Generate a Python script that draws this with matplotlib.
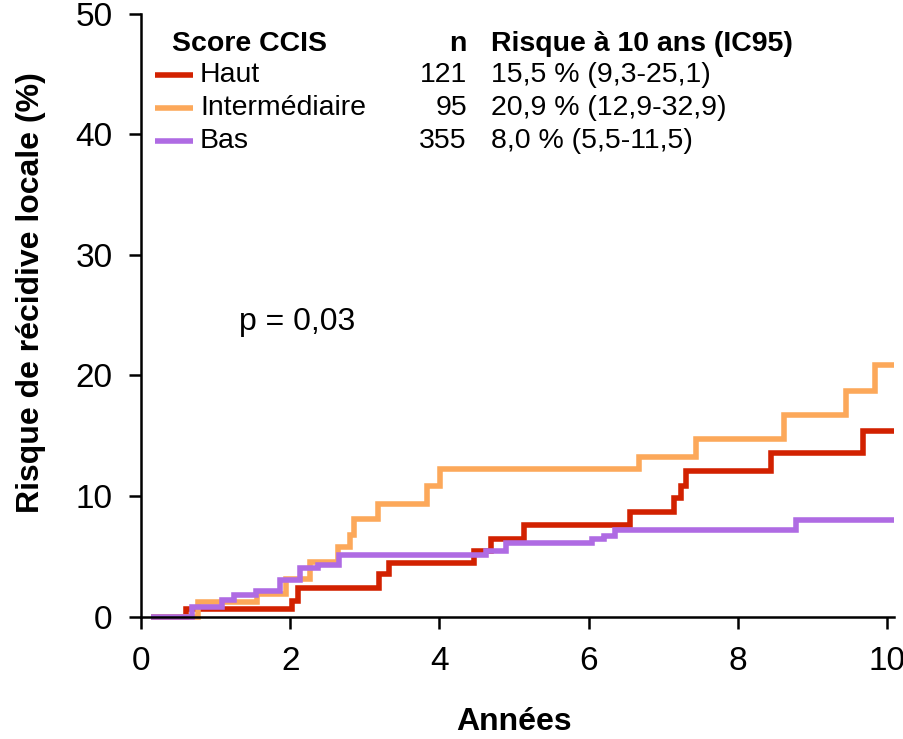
import matplotlib
matplotlib.use('Agg')
import matplotlib.pyplot as plt

plt.rcParams['font.family'] = ['Liberation Sans', 'DejaVu Sans']

# end of follow-up shown (years)
t_end = 10.1

# cumulative incidence steps
haut_t = [0.13, 0.60, 2.03, 2.11, 3.19, 3.33, 4.46, 4.69, 5.14, 6.55, 7.15, 7.24, 7.31, 8.45, 9.68]
haut_v = [0, 0.6, 1.3, 2.4, 3.5, 4.45, 5.4, 6.45, 7.6, 8.7, 9.8, 10.8, 12.1, 13.6, 15.4]

inter_t = [0.13, 0.76, 1.56, 1.94, 2.26, 2.64, 2.80, 2.86, 3.18, 3.84, 4.01, 6.67, 7.44, 8.62, 9.45, 9.84]
inter_v = [0, 1.2, 1.9, 3.1, 4.5, 5.8, 6.8, 8.1, 9.3, 10.8, 12.2, 13.2, 14.7, 16.7, 18.7, 20.9]

bas_t = [0.13, 0.69, 1.09, 1.25, 1.54, 1.86, 2.13, 2.37, 2.65, 4.62, 4.89, 6.05, 6.21, 6.35, 8.78]
bas_v = [0, 0.8, 1.35, 1.75, 2.1, 3.0, 4.0, 4.3, 5.1, 5.45, 6.1, 6.4, 6.7, 7.2, 8.0]

groups = ['Haut', 'Intermédiaire', 'Bas']
n_pat = [121, 95, 355]
risk10 = ['15,5 % (9,3-25,1)', '20,9 % (12,9-32,9)', '8,0 % (5,5-11,5)']
colors = ['#D22100', '#FCA85A', '#AF6BE3']

x_ticks = [0, 2, 4, 6, 8, 10]
y_ticks = [0, 10, 20, 30, 40, 50]

fig = plt.figure(figsize=(9.04, 7.39), dpi=100)
ax = fig.add_axes([0.1395, 0.1413, 0.854, 0.848])

series = [(haut_t, haut_v), (inter_t, inter_v), (bas_t, bas_v)]
for (t, v), c in zip(series, colors):
    ax.step(t + [t_end], v + [v[-1]], where='post', color=c, lw=4,
            solid_joinstyle='miter', solid_capstyle='butt')

ax.set_xlim(-0.2, 10.15)
ax.set_ylim(-1.5, 50.5)

# axes crossing at (0, 0)
for s in ['top', 'right']:
    ax.spines[s].set_visible(False)
ax.spines['left'].set_position(('data', 0))
ax.spines['bottom'].set_position(('data', 0))
ax.spines['left'].set_bounds(0, 50)
ax.spines['bottom'].set_bounds(0, 10.1)
for s in ['left', 'bottom']:
    ax.spines[s].set_linewidth(1.8)

ax.set_xticks(x_ticks)
ax.set_yticks(y_ticks)
ax.tick_params(direction='out', length=8.5, width=1.8, labelsize=24)
ax.tick_params(axis='x', pad=13)
ax.tick_params(axis='y', pad=12)

ax.set_xlabel('Années', fontsize=23, fontweight='bold')
ax.xaxis.set_label_coords(0.502, -0.14)
ax.xaxis.label.set_va('center')
ax.set_ylabel('Risque de récidive locale (%)', fontsize=23, fontweight='bold')
ax.yaxis.set_label_coords(-0.123, 0.545)
ax.yaxis.label.set_va('center')

# legend table
fs = 20.5
ax.text(0.42, 47.5, 'Score CCIS', fontsize=fs, fontweight='bold', va='center', ha='left')
ax.text(4.37, 47.5, 'n', fontsize=fs, fontweight='bold', va='center', ha='right')
ax.text(4.69, 47.5, 'Risque à 10 ans (IC95)', fontsize=fs, fontweight='bold', va='center', ha='left')
row_y = [44.9, 42.2, 39.45]
for g, nn, r, c, y in zip(groups, n_pat, risk10, colors, row_y):
    ax.plot([0.19, 0.70], [y, y], color=c, lw=4, solid_capstyle='butt')
    ax.text(0.79, y, g, fontsize=fs, va='center', ha='left')
    ax.text(4.37, y, str(nn), fontsize=fs, va='center', ha='right')
    ax.text(4.69, y, r, fontsize=fs, va='center', ha='left')

ax.text(2.09, 24.4, 'p = 0,03', fontsize=23, va='center', ha='center')

fig.savefig('out.png', dpi=100)
